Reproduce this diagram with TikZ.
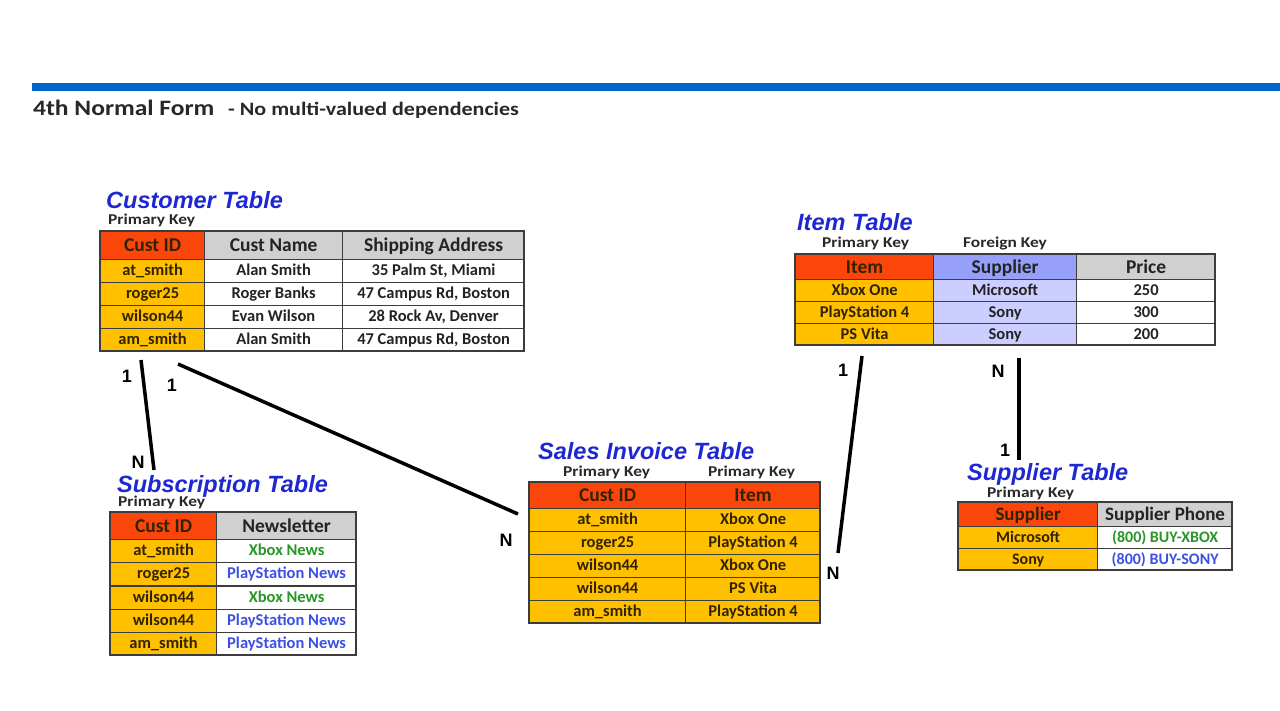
\documentclass[tikz,border=0pt]{standalone}
\usepackage{fontspec}
\setmainfont{Carlito}
\newfontfamily\arialfont{Liberation Sans}
\newfontfamily\widefont[FakeStretch=1.16]{Carlito}
\definecolor{barblue}{RGB}{0,102,204}
\definecolor{keyhead}{RGB}{250,70,10}
\definecolor{keycell}{RGB}{255,192,0}
\definecolor{headgray}{RGB}{208,208,208}
\definecolor{fkhead}{RGB}{150,160,250}
\definecolor{fkcell}{RGB}{204,206,255}
\definecolor{bordergray}{RGB}{60,60,60}
\definecolor{celltext}{RGB}{35,35,35}
\definecolor{keytext}{RGB}{50,35,0}
\definecolor{titleblue}{RGB}{30,40,210}
\definecolor{newsgreen}{RGB}{40,150,40}
\definecolor{newsblue}{RGB}{60,80,230}
\definecolor{labelgray}{RGB}{40,40,40}
\newcommand\tabcell[7]{\node[cell,#6,minimum width=#4pt,minimum height=#5pt] (#1) at (#2,#3) {#7};}
\tikzset{
  cell/.style={draw=bordergray, line width=1.2pt, inner sep=0pt, anchor=north west, text=celltext, font=\bfseries\fontsize{16.5}{18}\selectfont, text height=12pt, text depth=3pt},
  hkey/.style={fill=keyhead, text=keytext, font=\bfseries\fontsize{19.5}{21}\selectfont, text height=14pt, text depth=2pt},
  hgray/.style={fill=headgray, font=\bfseries\fontsize{19.5}{21}\selectfont, text height=14pt, text depth=2pt},
  hfk/.style={fill=fkhead, text=celltext, font=\bfseries\fontsize{19.5}{21}\selectfont, text height=14pt, text depth=2pt},
  ckey/.style={fill=keycell, text=keytext},
  cfk/.style={fill=fkcell},
  cwhite/.style={fill=white},
  small/.style={font=\bfseries\fontsize{16}{18}\selectfont, text height=12pt, text depth=2.5pt},
  smallh/.style={font=\bfseries\fontsize{19}{21}\selectfont, text height=13.5pt, text depth=2pt},
  tabtitle/.style={anchor=base west, inner sep=0pt, text=titleblue, font=\arialfont\bfseries\itshape\fontsize{23.5}{25}\selectfont},
  pklabel/.style={anchor=base west, inner sep=0pt, text=labelgray, font=\widefont\bfseries\fontsize{15}{17}\selectfont},
  card/.style={inner sep=0pt, text=black, font=\arialfont\bfseries\fontsize{18}{20}\selectfont},
  link/.style={line width=3.5pt, black},
  outer/.style={draw=bordergray, line width=1.6pt}
}
\begin{document}
\begin{tikzpicture}[x=1pt,y=-1pt]
\useasboundingbox (0,0) rectangle (1280,710);
\fill[white] (0,0) rectangle (1280,710);
% header
\fill[barblue] (32,83) rectangle (1280,91);
\node[anchor=base west, inner sep=0pt, text=labelgray, font=\widefont\bfseries\fontsize{22}{24}\selectfont] (ttl) at (33,115) {4th Normal Form};
\node[anchor=base west, inner sep=0pt, text=labelgray, font=\widefont\bfseries\fontsize{19}{22}\selectfont] (sub) at (228,115) {- No multi-valued dependencies};

% Customer Table
\node[tabtitle] (custT) at (106,208) {Customer Table};
\node[pklabel] (custPK) at (108,224) {Primary Key};
\tabcell{c00}{100}{231}{104}{28}{hkey}{Cust ID}
\tabcell{c01}{204}{231}{138}{28}{hgray}{Cust Name}
\tabcell{c02}{342}{231}{182}{28}{hgray}{Shipping Address}
\tabcell{c10}{100}{259}{104}{23}{ckey}{at\_smith}
\tabcell{c11}{204}{259}{138}{23}{cwhite}{Alan Smith}
\tabcell{c12}{342}{259}{182}{23}{cwhite}{35 Palm St, Miami}
\tabcell{c20}{100}{282}{104}{23}{ckey}{roger25}
\tabcell{c21}{204}{282}{138}{23}{cwhite}{Roger Banks}
\tabcell{c22}{342}{282}{182}{23}{cwhite}{47 Campus Rd, Boston}
\tabcell{c30}{100}{305}{104}{23}{ckey}{wilson44}
\tabcell{c31}{204}{305}{138}{23}{cwhite}{Evan Wilson}
\tabcell{c32}{342}{305}{182}{23}{cwhite}{28 Rock Av, Denver}
\tabcell{c40}{100}{328}{104}{23}{ckey}{am\_smith}
\tabcell{c41}{204}{328}{138}{23}{cwhite}{Alan Smith}
\tabcell{c42}{342}{328}{182}{23}{cwhite}{47 Campus Rd, Boston}
\draw[outer] (100,231) rectangle (524,351);

% Item Table
\node[tabtitle] (itemT) at (797,230) {Item Table};
\node[pklabel] (itemPK) at (822,247) {Primary Key};
\node[pklabel] (itemFK) at (963,247) {Foreign Key};
\tabcell{i00}{795}{254}{138}{25}{hkey}{Item}
\tabcell{i01}{933}{254}{143}{25}{hfk}{Supplier}
\tabcell{i02}{1076}{254}{139}{25}{hgray}{Price}
\tabcell{i10}{795}{279}{138}{22}{ckey}{Xbox One}
\tabcell{i11}{933}{279}{143}{22}{cfk}{Microsoft}
\tabcell{i12}{1076}{279}{139}{22}{cwhite}{250}
\tabcell{i20}{795}{301}{138}{22}{ckey}{PlayStation 4}
\tabcell{i21}{933}{301}{143}{22}{cfk}{Sony}
\tabcell{i22}{1076}{301}{139}{22}{cwhite}{300}
\tabcell{i30}{795}{323}{138}{22}{ckey}{PS Vita}
\tabcell{i31}{933}{323}{143}{22}{cfk}{Sony}
\tabcell{i32}{1076}{323}{139}{22}{cwhite}{200}
\draw[outer] (795,254) rectangle (1215,345);

% Subscription Table
\node[tabtitle] (subT) at (117,492) {Subscription Table};
\node[pklabel] (subPK) at (118,506) {Primary Key};
\tabcell{s00}{110}{512}{106}{27}{hkey}{Cust ID}
\tabcell{s01}{216}{512}{140}{27}{hgray}{Newsletter}
\tabcell{s10}{110}{539}{106}{23.2}{ckey}{at\_smith}
\tabcell{s11}{216}{539}{140}{23.2}{cwhite,text=newsgreen}{Xbox News}
\tabcell{s20}{110}{562.2}{106}{23.2}{ckey}{roger25}
\tabcell{s21}{216}{562.2}{140}{23.2}{cwhite,text=newsblue}{PlayStation News}
\tabcell{s30}{110}{585.4}{106}{23.2}{ckey}{wilson44}
\tabcell{s31}{216}{585.4}{140}{23.2}{cwhite,text=newsgreen}{Xbox News}
\tabcell{s40}{110}{608.6}{106}{23.2}{ckey}{wilson44}
\tabcell{s41}{216}{608.6}{140}{23.2}{cwhite,text=newsblue}{PlayStation News}
\tabcell{s50}{110}{631.8}{106}{23.2}{ckey}{am\_smith}
\tabcell{s51}{216}{631.8}{140}{23.2}{cwhite,text=newsblue}{PlayStation News}
\draw[outer] (110,512) rectangle (356,655);

% Sales Invoice Table
\node[tabtitle] (salT) at (538,459) {Sales Invoice Table};
\node[pklabel] (salPK1) at (563,476) {Primary Key};
\node[pklabel] (salPK2) at (708,476) {Primary Key};
\tabcell{v00}{529}{482}{156}{26}{hkey}{Cust ID}
\tabcell{v01}{685}{482}{135}{26}{hkey}{Item}
\tabcell{v10}{529}{508}{156}{23}{ckey}{at\_smith}
\tabcell{v11}{685}{508}{135}{23}{ckey}{Xbox One}
\tabcell{v20}{529}{531}{156}{23}{ckey}{roger25}
\tabcell{v21}{685}{531}{135}{23}{ckey}{PlayStation 4}
\tabcell{v30}{529}{554}{156}{23}{ckey}{wilson44}
\tabcell{v31}{685}{554}{135}{23}{ckey}{Xbox One}
\tabcell{v40}{529}{577}{156}{23}{ckey}{wilson44}
\tabcell{v41}{685}{577}{135}{23}{ckey}{PS Vita}
\tabcell{v50}{529}{600}{156}{23}{ckey}{am\_smith}
\tabcell{v51}{685}{600}{135}{23}{ckey}{PlayStation 4}
\draw[outer] (529,482) rectangle (820,623);

% Supplier Table
\node[tabtitle] (supT) at (967,480) {Supplier Table};
\node[pklabel] (supPK) at (987,497) {Primary Key};
\tabcell{p00}{958}{502}{139}{24}{hkey,smallh}{Supplier}
\tabcell{p01}{1097}{502}{135}{24}{hgray,smallh}{Supplier Phone}
\tabcell{p10}{958}{526}{139}{22}{ckey,small}{Microsoft}
\tabcell{p11}{1097}{526}{135}{22}{cwhite,small,text=newsgreen}{(800) BUY-XBOX}
\tabcell{p20}{958}{548}{139}{22}{ckey,small}{Sony}
\tabcell{p21}{1097}{548}{135}{22}{cwhite,small,text=newsblue}{(800) BUY-SONY}
\draw[outer] (958,502) rectangle (1232,570);

% connectors
\coordinate (a1) at (141,360); \coordinate (a2) at (154,470);
\coordinate (b1) at (178,364); \coordinate (b2) at (518,514);
\coordinate (d1) at (862,356); \coordinate (d2) at (838,553);
\coordinate (e1) at (1019,358); \coordinate (e2) at (1019,460);
\draw[link] (a1) -- (a2);
\draw[link] (b1) -- (b2);
\draw[link] (d1) -- (d2);
\draw[link] (e1) -- (e2);
\node[card] (la1) at (127,376) {1};
\node[card] (la2) at (138,462) {N};
\node[card] (lb1) at (172,385) {1};
\node[card] (lb2) at (506,540) {N};
\node[card] (ld1) at (843,370) {1};
\node[card] (ld2) at (833,573) {N};
\node[card] (le1) at (998,371) {N};
\node[card] (le2) at (1005,450) {1};
\end{tikzpicture}
\end{document}
